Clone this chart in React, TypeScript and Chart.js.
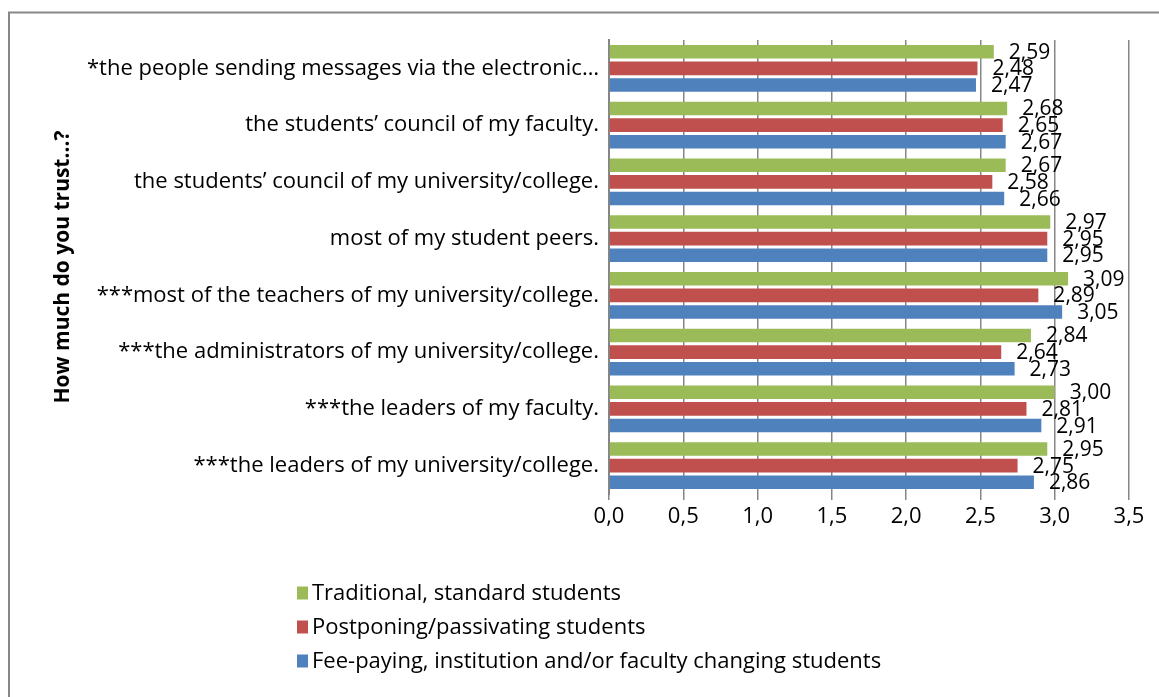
import React, { useEffect, useRef } from 'react';
import { Chart, registerables } from 'chart.js';

Chart.register(...registerables);

const categories = [
  '*the people sending messages via the electronic…',
  'the students’ council of my faculty.',
  'the students’ council of my university/college.',
  'most of my student peers.',
  '***most of the teachers of my university/college.',
  '***the administrators of my university/college.',
  '***the leaders of my faculty.',
  '***the leaders of my university/college.',
];

const traditional = [2.59, 2.68, 2.67, 2.97, 3.09, 2.84, 3.0, 2.95];
const postponing = [2.48, 2.65, 2.58, 2.95, 2.89, 2.64, 2.81, 2.75];
const feePaying = [2.47, 2.67, 2.66, 2.95, 3.05, 2.73, 2.91, 2.86];

const seriesNames = [
  'Traditional, standard students',
  'Postponing/passivating students',
  'Fee-paying, institution and/or faculty changing students',
];
const seriesColors = ['#9BBB59', '#C0504D', '#4F81BD'];

const axisTitle = 'How much do you trust…?';
const xMin = 0;
const xMax = 3.5;
const xStep = 0.5;

const FONT = '"Open Sans"';
const FS = 22;
const VFS = 21;

const fmt = (v: number, d: number) => v.toFixed(d).replace('.', ',');

const frameLegendLabelsPlugin = {
  id: 'frameLegendLabels',
  beforeDraw(chart: any) {
    const ctx = chart.ctx;
    ctx.save();
    ctx.strokeStyle = '#878787';
    ctx.lineWidth = 2;
    ctx.beginPath();
    ctx.moveTo(9, chart.height);
    ctx.lineTo(9, 12.5);
    ctx.lineTo(chart.width, 12.5);
    ctx.stroke();
    ctx.restore();
  },
  afterDatasetsDraw(chart: any) {
    const ctx = chart.ctx;
    ctx.save();
    ctx.font = `${VFS}px ${FONT}`;
    ctx.fillStyle = '#000';
    ctx.textAlign = 'left';
    ctx.textBaseline = 'middle';
    chart.data.datasets.forEach((ds: any, i: number) => {
      const meta = chart.getDatasetMeta(i);
      meta.data.forEach((bar: any, j: number) => {
        ctx.fillText(fmt(ds.data[j], 2), bar.x + 15, bar.y + 1);
      });
    });
    ctx.restore();
  },
  afterDraw(chart: any) {
    const ctx = chart.ctx;
    ctx.save();
    ctx.font = `${FS}px ${FONT}`;
    ctx.fillStyle = '#000';
    ctx.textAlign = 'left';
    ctx.textBaseline = 'middle';
    const boxX = 297;
    const textX = 312;
    const rowY = [593, 627, 661];
    chart.data.datasets.forEach((ds: any, i: number) => {
      const y = rowY[i];
      ctx.fillStyle = ds.backgroundColor;
      ctx.fillRect(boxX, y - 6.5, 11, 13);
      ctx.fillStyle = '#000';
      ctx.fillText(ds.label, textX, y + 1);
    });
    ctx.restore();
  },
};

export default function App() {
  const canvasRef = useRef<HTMLCanvasElement | null>(null);

  useEffect(() => {
    document.body.style.margin = '0';
    let chart: Chart | null = null;
    let cancelled = false;
    const build = () => {
      if (cancelled || !canvasRef.current) return;
      chart = new Chart(canvasRef.current, {
        type: 'bar',
        data: {
          labels: categories,
          datasets: [
            { label: seriesNames[0], data: traditional, backgroundColor: seriesColors[0] },
            { label: seriesNames[1], data: postponing, backgroundColor: seriesColors[1] },
            { label: seriesNames[2], data: feePaying, backgroundColor: seriesColors[2] },
          ],
        },
        options: {
          indexAxis: 'y',
          responsive: false,
          animation: false,
          datasets: {
            bar: { categoryPercentage: 0.883, barPercentage: 0.81 },
          },
          layout: { padding: { left: 48, right: 30, top: 40, bottom: 158 } },
          plugins: {
            legend: { display: false },
            tooltip: { enabled: false },
          },
          scales: {
            x: {
              min: xMin,
              max: xMax,
              ticks: {
                stepSize: xStep,
                callback: (v: any) => fmt(Number(v), 1),
                font: { family: FONT, size: FS },
                color: '#000',
                padding: 4,
              },
              grid: { color: '#868686', lineWidth: 1.5, tickLength: 6, drawTicks: true },
              border: { display: false },
              afterFit: (s: any) => {
                s.height = 45;
              },
            },
            y: {
              grid: { display: false, drawTicks: false },
              border: { display: true, color: '#868686', width: 2 },
              ticks: {
                font: { family: FONT, size: FS },
                color: '#000',
                padding: 10,
                autoSkip: false,
              },
              title: {
                display: true,
                text: axisTitle,
                font: { family: FONT, size: 21, weight: 'bold' },
                color: '#000',
                padding: { top: 2, bottom: 0 },
              },
              afterFit: (s: any) => {
                s.width = 561;
              },
            },
          },
        },
        plugins: [frameLegendLabelsPlugin],
      } as any);
    };
    const fontsReady = (document as any).fonts
      ? Promise.all([
          (document as any).fonts.load(`${FS}px ${FONT}`),
          (document as any).fonts.load(`bold 21px ${FONT}`),
        ]).catch(() => null)
      : Promise.resolve(null);
    fontsReady.then(build);
    return () => {
      cancelled = true;
      if (chart) chart.destroy();
    };
  }, []);

  return (
    <canvas
      ref={canvasRef}
      width={1159}
      height={697}
      style={{ display: 'block', width: '1159px', height: '697px' }}
    />
  );
}
